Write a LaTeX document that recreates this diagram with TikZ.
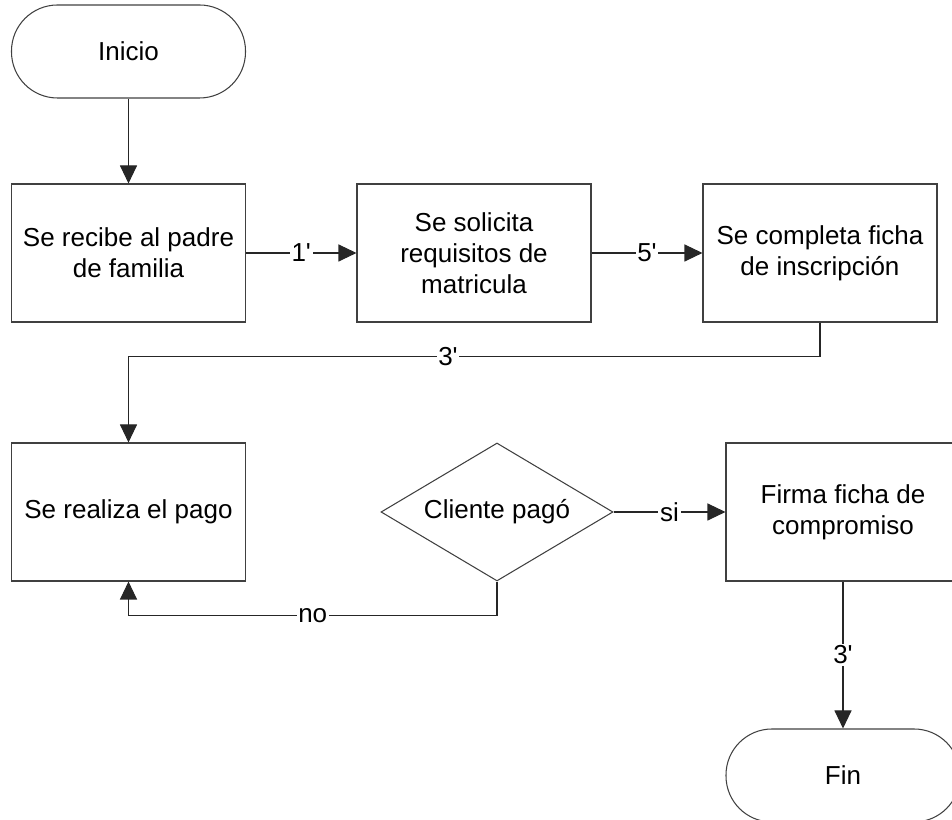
\documentclass[tikz,border=0pt]{standalone}
\usepackage{fontspec}
\setmainfont{Liberation Sans}
\usepackage{tikz}
\usetikzlibrary{shapes,arrows.meta,positioning}

\newcommand{\minutos}[1]{#1\textquotesingle}

\begin{document}
\begin{tikzpicture}[
  font=\fontsize{14.8}{17.5}\selectfont,
  proceso/.style={draw=black!75, line width=0.6pt, rectangle, minimum width=4.68cm, minimum height=2.76cm, align=center, inner sep=0pt},
  terminal/.style={draw=black!75, line width=0.6pt, rectangle, rounded corners=0.92cm, minimum width=4.68cm, minimum height=1.86cm, inner sep=0pt},
  decision/.style={draw=black!75, line width=0.6pt, diamond, aspect=1.7, minimum width=4.64cm, minimum height=2.76cm, inner sep=0pt},
  flecha/.style={draw=black!85, line width=0.6pt, -{Triangle[length=0.36cm, width=0.34cm]}},
  etiq/.style={fill=white, inner sep=1pt}
]
\useasboundingbox (0,0) rectangle (19.04,16.40);

% Inicio
\node[terminal] (inicio) at (2.57,15.37) {Inicio};

% First row
\node[proceso] (recibe) at (2.57,11.34) {Se recibe al padre\\de familia};
\node[proceso] (solicita) at (9.48,11.34) {Se solicita\\requisitos de\\matricula};
\node[proceso] (ficha) at (16.40,11.34) {Se completa ficha\\de inscripción};

% Second row
\node[proceso] (pago) at (2.57,6.16) {Se realiza el pago};
\node[decision] (pagado) at (9.94,6.16) {Cliente pagó};
\node[proceso] (firma) at (16.86,6.16) {Firma ficha de\\compromiso};

% Fin
\node[terminal] (fin) at (16.86,0.89) {Fin};

% Connectors
\draw[flecha] (inicio) -- (recibe);
\draw[flecha] (recibe) -- node[etiq] {\minutos{1}} (solicita);
\draw[flecha] (solicita) -- node[etiq] {\minutos{5}} (ficha);
\draw[flecha] (ficha.south) -- ++(0,-0.68) -| node[etiq, pos=0.269] {\minutos{3}} (pago.north);
\draw[flecha] (pagado) -- node[etiq] {si} (firma);
\draw[flecha] (pagado.south) -- ++(0,-0.68) -| node[etiq, pos=0.25] {no} (pago.south);
\draw[flecha] (firma) -- node[etiq] {\minutos{3}} (fin);
\end{tikzpicture}
\end{document}
